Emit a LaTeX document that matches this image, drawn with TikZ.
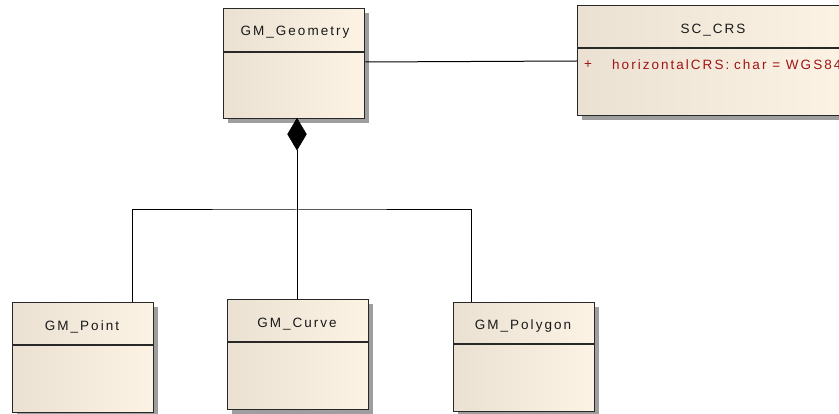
\documentclass[tikz,border=0pt]{standalone}
\usepackage{fontspec}
\setmainfont{Liberation Sans}
\usetikzlibrary{shadows,shapes.geometric}
\definecolor{boxleft}{RGB}{234,225,211}
\definecolor{boxright}{RGB}{252,243,229}
\definecolor{attrred}{RGB}{160,20,20}
\definecolor{edgegray}{RGB}{40,40,40}
\tikzset{
  umlbox/.style={draw=edgegray, line width=1.3pt, rectangle, inner sep=0pt, anchor=north west,
    left color=boxleft, right color=boxright, shading angle=90,
    drop shadow={shadow xshift=4pt, shadow yshift=-4pt, fill=black!38, opacity=1}},
  umltitle/.style={font=\fontsize{13.5}{15}\selectfont\addfontfeatures{LetterSpace=15}, text=black!90, inner sep=0pt},
  umlattr/.style={font=\fontsize{13.5}{15}\selectfont\addfontfeatures{LetterSpace=15}, text=attrred, inner sep=0pt, anchor=west},
  divider/.style={draw=edgegray, line width=1.3pt},
  conn/.style={draw=black, line width=1pt},
  compdiamond/.style={diamond, fill=black, draw=black, inner sep=0pt, minimum width=19pt, minimum height=32pt, anchor=north}
}
\begin{document}
\begin{tikzpicture}[x=1pt,y=-1pt]
\useasboundingbox[fill=white] (0,0) rectangle (839,414);
% classes
\node[umlbox, minimum width=141pt, minimum height=110pt] (geom) at (223,8) {};
\draw[divider] (223,52) -- (364,52);
\node[umltitle] (geomt) at (295,32) {GM\_Geometry};

\node[umlbox, minimum width=272pt, minimum height=110pt] (crs) at (577,5) {};
\draw[divider] (577,48) -- (849,48);
\node[umltitle] (crst) at (713,30) {SC\_CRS};
\node[umlattr] (crsp) at (584,65) {+};
\node[umlattr] (crsa) at (612,65) {horizontalCRS:};
\node[umlattr] (crsb) at (734,65) {char = WGS84};

\node[umlbox, minimum width=141pt, minimum height=110pt] (point) at (12,302) {};
\draw[divider] (12,345) -- (153,345);
\node[umltitle] (pointt) at (82,327) {GM\_Point};

\node[umlbox, minimum width=141pt, minimum height=110pt] (curve) at (227,299) {};
\draw[divider] (227,342) -- (368,342);
\node[umltitle] (curvet) at (297,324) {GM\_Curve};

\node[umlbox, minimum width=141pt, minimum height=109pt] (poly) at (453,302) {};
\draw[divider] (453,344) -- (594,344);
\node[umltitle] (polyt) at (523,326) {GM\_Polygon};

% association
\draw[conn] (geom.east |- 0,62) -- (crs.west |- 0,61);

% composition
\node[compdiamond] (dia) at (297,118) {};
\coordinate (junc) at (297,210);
\draw[conn] (dia.south) -- (curve.north -| dia.south);
\draw[conn] (point.north -| 132,0) |- (junc) -| (poly.north -| 471,0);
\end{tikzpicture}
\end{document}
